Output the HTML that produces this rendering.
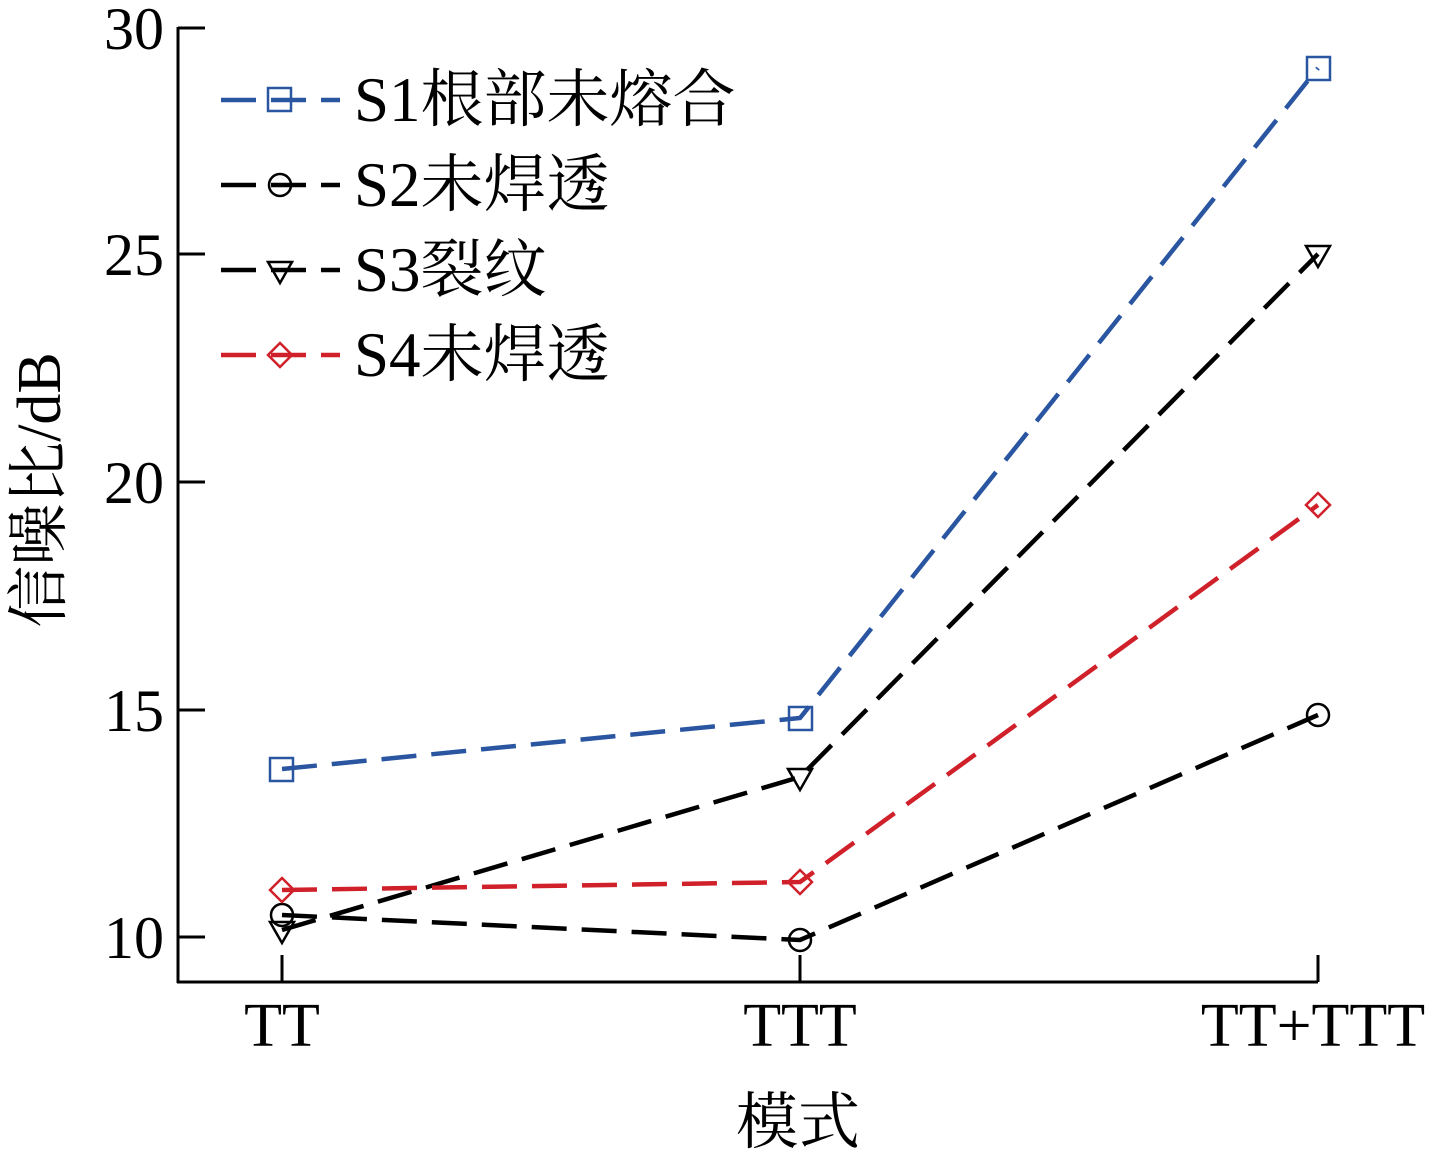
<!DOCTYPE html>
<html><head><meta charset="utf-8"><style>
html,body{margin:0;padding:0;background:#fff;}
svg text{font-family:"Liberation Serif","Noto Serif CJK SC",serif;fill:#000;}
</style></head><body>
<svg width="1430" height="1158" viewBox="0 0 1430 1158" xmlns="http://www.w3.org/2000/svg">
<g stroke="#000" stroke-width="3" fill="none">
<line x1="178" y1="27" x2="178" y2="983"/>
<line x1="177" y1="982" x2="1318" y2="982"/>
<line x1="178" y1="28" x2="205" y2="28"/>
<line x1="178" y1="254" x2="205" y2="254"/>
<line x1="178" y1="482" x2="205" y2="482"/>
<line x1="178" y1="710" x2="205" y2="710"/>
<line x1="178" y1="937" x2="205" y2="937"/>
<line x1="282" y1="982" x2="282" y2="955"/>
<line x1="800" y1="982" x2="800" y2="955"/>
<line x1="1318" y1="982" x2="1318" y2="955"/>
</g>
<g font-size="60" text-anchor="end">
<text x="164" y="49">30</text>
<text x="164" y="275">25</text>
<text x="164" y="503">20</text>
<text x="164" y="731">15</text>
<text x="164" y="958">10</text>
</g>
<g font-size="62" text-anchor="middle">
<text x="282" y="1046">TT</text>
<text x="800" y="1046">TTT</text>
<text x="1313" y="1046">TT+TTT</text>
<text x="798" y="1143">模式</text>
<text transform="translate(60,490) rotate(-90)">信噪比/dB</text>
</g>
<g fill="none" stroke-width="4.5" stroke-dasharray="35,15">
<polyline stroke="#2a55a0" points="282,769 800,718 1318,68"/>
<polyline stroke="#000" points="282,915 800,940 1318,715"/>
<polyline stroke="#000" points="282,930 800,777 1318,254"/>
<polyline stroke="#d0202a" points="282,890 800,882 1318,505"/>
<line stroke="#2a55a0" x1="221" y1="100" x2="340" y2="100"/>
<line stroke="#000" x1="221" y1="185" x2="340" y2="185"/>
<line stroke="#000" x1="221" y1="270" x2="340" y2="270"/>
<line stroke="#d0202a" x1="221" y1="355" x2="340" y2="355"/>
</g>
<g fill="none" stroke-width="2.5">
<g stroke="#2a55a0">
<rect x="270" y="758" width="23" height="23"/><rect x="789" y="707" width="23" height="23"/><rect x="1307" y="57" width="23" height="23"/><rect x="268" y="88" width="23" height="23"/>
</g>
<g stroke="#000">
<circle cx="282" cy="915" r="11"/><circle cx="800" cy="940" r="11"/><circle cx="1318" cy="715" r="11"/><circle cx="280" cy="185" r="11"/>
<polygon points="270,922 294,922 282,943"/><polygon points="788,769 812,769 800,790"/><polygon points="1306,246 1330,246 1318,267"/><polygon points="268,262 292,262 280,283"/>
</g>
<g stroke="#d0202a">
<polygon points="282,878 294,890 282,902 270,890"/><polygon points="800,870 812,882 800,894 788,882"/><polygon points="1318,493 1330,505 1318,517 1306,505"/><polygon points="280,343 292,355 280,367 268,355"/>
</g>
</g>
<g font-size="63">
<text x="354" y="121">S1根部未熔合</text>
<text x="354" y="206">S2未焊透</text>
<text x="354" y="291">S3裂纹</text>
<text x="354" y="376">S4未焊透</text>
</g>
</svg>
</body></html>
